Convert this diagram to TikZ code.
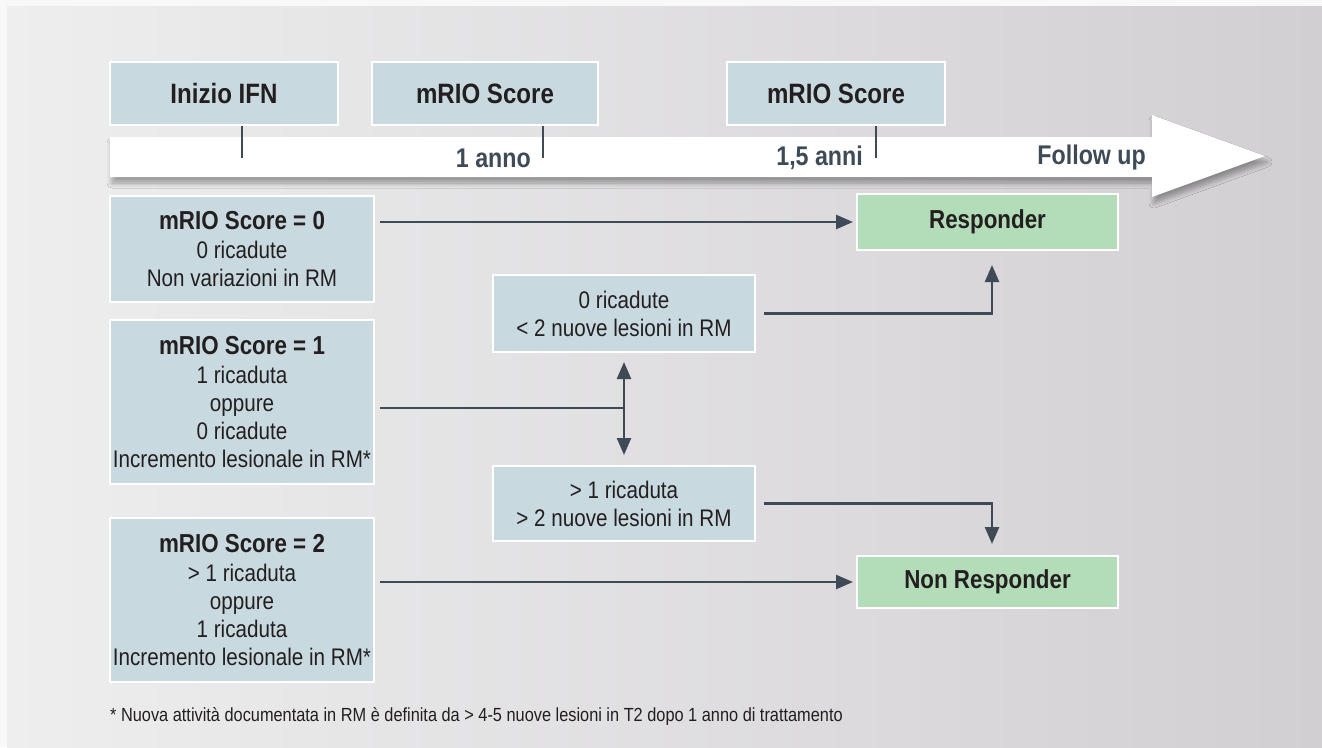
\documentclass[tikz,border=0pt]{standalone}
\usepackage{fontspec}
\setmainfont{Liberation Sans}[FakeStretch=0.86]
\usetikzlibrary{arrows.meta,shadows.blur}
\definecolor{bgA}{HTML}{EEEEEE}
\definecolor{bgB}{HTML}{D2CFD3}
\definecolor{boxblue}{HTML}{C9D9E0}
\definecolor{boxgreen}{HTML}{B3DCB8}
\definecolor{slate}{HTML}{3E4B56}
\definecolor{ink}{HTML}{231F20}
\newcommand\ttlfont{\fontsize{26}{30}\selectfont\bfseries}
\newcommand\bdyfont{\fontsize{24}{28}\selectfont}
\newcommand\topfont{\fontsize{28}{32}\selectfont\bfseries}
\newcommand\axfont{\fontsize{27}{30}\selectfont\bfseries}
\newcommand\ftnfont{\fontsize{19}{22}\selectfont}
\begin{document}
\begin{tikzpicture}[x=1pt,y=-1pt,
  bluebox/.style={fill=boxblue, draw=white, line width=2pt, inner sep=0pt, align=center, text=ink, font=\bdyfont},
  greenbox/.style={fill=boxgreen, draw=white, line width=2pt, inner sep=0pt, align=center, text=ink, font=\ttlfont},
  topbox/.style={bluebox, font=\topfont, minimum height=63pt},
  conn/.style={draw=slate, line width=2.5pt, -{Triangle[length=17pt,width=14pt]}},
  plain/.style={draw=slate, line width=2.5pt},
  tickline/.style={draw=slate, line width=1.1pt},
  axlabel/.style={font=\axfont, text=slate, inner sep=0pt, anchor=east}
]
\useasboundingbox (0,0) rectangle (1322,747);
\fill[white!60!bgA] (0,0) rectangle (1322,747);
\shade[left color=bgA, right color=bgB] (7,6) rectangle (1322,747);

% time band
\fill[white, blur shadow={shadow xshift=2pt, shadow yshift=-6pt, shadow blur radius=5pt, shadow blur steps=8, shadow opacity=35}]
  (110,137) -- (1152,137) -- (1152,115) -- (1265,156) -- (1152,197) -- (1152,177) -- (110,177) -- cycle;

% top boxes
\node[topbox, minimum width=228pt] (top1) at (224,93.5) {Inizio IFN};
\node[topbox, minimum width=226pt] (top2) at (485,93.5) {mRIO Score};
\node[topbox, minimum width=218pt] (top3) at (836,93.5) {mRIO Score};

\coordinate (t1) at (242,158);
\coordinate (t2) at (543,158);
\coordinate (t3) at (876,158);
\draw[tickline] (top1.south -| t1) -- (t1);
\draw[tickline] (top2.south -| t2) -- (t2);
\draw[tickline] (top3.south -| t3) -- (t3);

\node[axlabel] (l1) at (531,158) {1 anno};
\node[axlabel] (l2) at (863,158) {1,5 anni};
\node[axlabel] (l3) at (1146,158) {Follow up};

% left boxes
\node[bluebox, minimum width=264pt, minimum height=106pt] (s0) at (242,249)
  {{\ttlfont mRIO Score = 0}\\[1pt]0 ricadute\\Non variazioni in RM};
\node[bluebox, minimum width=264pt, minimum height=164pt] (s1) at (242,402)
  {{\ttlfont mRIO Score = 1}\\[1pt]1 ricaduta\\oppure\\0 ricadute\\Incremento lesionale in RM*};
\node[bluebox, minimum width=264pt, minimum height=164pt] (s2) at (242,600)
  {{\ttlfont mRIO Score = 2}\\[1pt]> 1 ricaduta\\oppure\\1 ricaduta\\Incremento lesionale in RM*};

% middle boxes
\node[bluebox, minimum width=262pt, minimum height=77pt] (A) at (624,313.5)
  {0 ricadute\\< 2 nuove lesioni in RM};
\node[bluebox, minimum width=262pt, minimum height=75pt] (B) at (624,503.5)
  {> 1 ricaduta\\> 2 nuove lesioni in RM};

% outcome boxes
\node[greenbox, minimum width=261pt, minimum height=56pt] (R) at (987.5,222) {Responder};
\node[greenbox, minimum width=261pt, minimum height=52pt] (NR) at (987.5,582) {Non Responder};

% connectors
\coordinate (J) at (624,408);
\coordinate (c1) at (992,0);
\draw[conn, shorten <=5pt, shorten >=3pt] (s0.east |- R.west) -- (R.west);
\draw[plain, shorten <=5pt] (s1.east |- J) -- (J);
\draw[conn, shorten >=9pt] (J) -- (A.south);
\draw[conn, shorten >=10pt] (J) -- (B.north);
\draw[conn, shorten <=8pt, shorten >=14pt] (A.east) -- (A.east -| c1) -- (c1 |- R.south);
\draw[conn, shorten <=8pt, shorten >=11pt] (B.east) -- (B.east -| c1) -- (c1 |- NR.north);
\draw[conn, shorten <=5pt, shorten >=3pt] (s2.east |- NR.west) -- (NR.west);

% footnote
\node[anchor=west, font=\ftnfont, text=ink, inner sep=0pt] (fn) at (110,716)
  {* Nuova attività documentata in RM è definita da > 4-5 nuove lesioni in T2 dopo 1 anno di trattamento};
\end{tikzpicture}
\end{document}
